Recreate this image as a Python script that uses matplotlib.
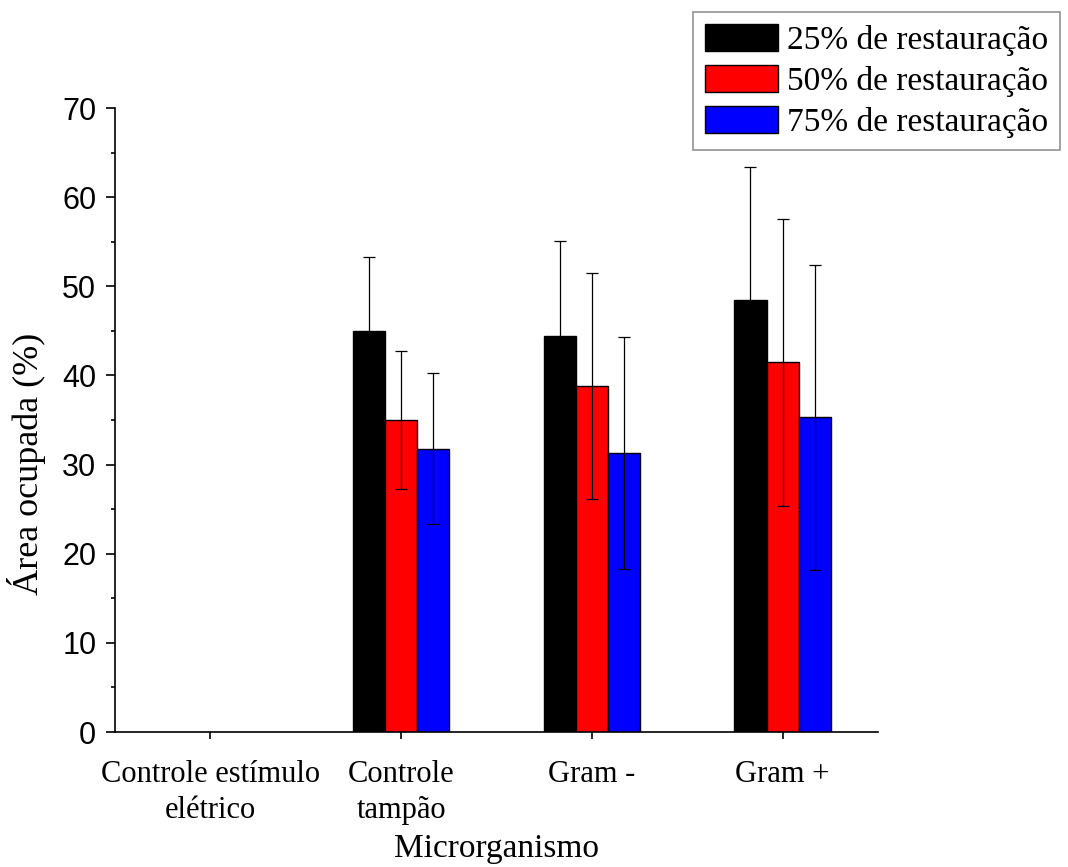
import numpy as np
import matplotlib
matplotlib.use("Agg")
import matplotlib.pyplot as plt
from matplotlib.ticker import MultipleLocator

grupos = ["Controle estímulo\nelétrico", "Controle\ntampão", "Gram -", "Gram +"]
series = ["25% de restauração", "50% de restauração", "75% de restauração"]
cores = ["black", "red", "blue"]

# média da área ocupada (%) por grupo, uma lista por nível de restauração
media_25 = [np.nan, 45.0, 44.4, 48.5]
media_50 = [np.nan, 35.0, 38.8, 41.5]
media_75 = [np.nan, 31.8, 31.3, 35.3]

# desvio padrão
dp_25 = [np.nan, 8.3, 10.7, 14.9]
dp_50 = [np.nan, 7.7, 12.7, 16.1]
dp_75 = [np.nan, 8.5, 13.0, 17.1]

medias = [media_25, media_50, media_75]
desvios = [dp_25, dp_50, dp_75]

serif = ["Liberation Serif", "DejaVu Serif"]

fig = plt.figure(figsize=(10.68, 8.67), dpi=100)
ax = fig.add_axes([0.1077, 0.1557, 0.7143, 0.7197])

x = np.arange(len(grupos))
w = 0.168
for i in range(3):
    ax.bar(x + (i - 1) * w, medias[i], w, color=cores[i], edgecolor="black",
           linewidth=1.0, label=series[i], zorder=2)
    ax.errorbar(x + (i - 1) * w, medias[i], yerr=desvios[i], fmt="none",
                ecolor="black", elinewidth=0.9, capsize=4.3, capthick=0.9,
                zorder=3)

ax.set_xlim(-0.5, 3.5)
ax.set_ylim(0, 70)
ax.yaxis.set_major_locator(MultipleLocator(10))
ax.yaxis.set_minor_locator(MultipleLocator(5))
ax.set_xticks(x)
ax.set_xticklabels(grupos, family=serif, fontsize=22, linespacing=1.35)

for s in ["top", "right"]:
    ax.spines[s].set_visible(False)
for s in ["left", "bottom"]:
    ax.spines[s].set_linewidth(1.2)

ax.tick_params(axis="y", which="major", direction="out", length=6.5, width=1.2,
               pad=7, labelsize=22, labelfontfamily="Liberation Sans")
ax.tick_params(axis="y", which="minor", direction="out", length=3, width=1.2)
ax.tick_params(axis="x", which="major", direction="out", length=5, width=1.2, pad=15)

ax.set_xlabel("Microrganismo", family=serif, fontsize=24)
ax.xaxis.set_label_coords(0.5, -0.163)
ax.set_ylabel("Área ocupada (%)", family=serif, fontsize=26)
ax.yaxis.set_label_coords(-0.090, 0.43)

leg = fig.legend(loc="upper left", bbox_to_anchor=(0.649, 0.986),
                 bbox_transform=fig.transFigure, frameon=True, fancybox=False,
                 prop={"family": serif, "size": 24}, handlelength=2.2,
                 handleheight=0.87, handletextpad=0.28, labelspacing=0.27,
                 borderpad=0.35, borderaxespad=0)
leg.get_frame().set_edgecolor("#777777")
leg.get_frame().set_linewidth(1.2)

fig.savefig("out.png", dpi=100)
